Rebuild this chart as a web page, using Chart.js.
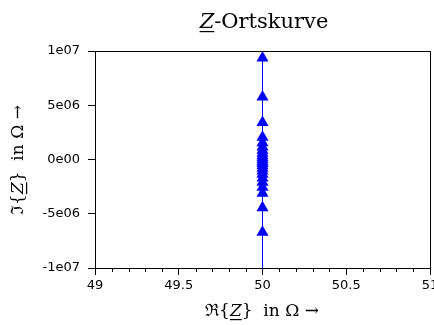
<!DOCTYPE html>
<html>
<head>
<meta charset="utf-8">
<script src="https://cdn.jsdelivr.net/npm/chart.js@4/dist/chart.umd.min.js"></script>
<style>
html,body{margin:0;padding:0;background:#fff;overflow:hidden;}
#wrap{width:434px;height:325px;position:relative;overflow:hidden;}
</style>
</head>
<body>
<div id="wrap"><canvas id="chart" width="454" height="325"></canvas></div>
<script>
// ===== daten =====
// Realteil (konstant) und Imaginärteil der Ortskurve, in Ohm
let imagWerte = [-3e7, -6.7e6, -4.45e6, -3.1e6, -2.55e6, -2.1e6, -1.7e6, -1.35e6, -1.05e6, -0.8e6,
                 -0.58e6, -0.38e6, -0.2e6, -0.03e6, 0.15e6, 0.35e6, 0.58e6, 0.85e6, 1.15e6, 1.55e6,
                 2.05e6, 3.4e6, 5.75e6, 9.35e6, 3e7];
let realWerte = imagWerte.map(() => 50);

let xTicks = [49, 49.5, 50, 50.5, 51];
let yTicks = [-1e7, -5e6, 0, 5e6, 1e7];

const SERIF = "'DejaVu Serif', serif";
const SANS = "'DejaVu Sans', sans-serif";

// text in stücken zeichnen (kursiv, unterstrichen)
function drawParts(ctx, parts, x, y){
  let total = 0;
  parts.forEach(p => { ctx.font = p.f; total += ctx.measureText(p.t).width; });
  let cx = x - total/2;
  ctx.textBaseline = 'alphabetic';
  ctx.textAlign = 'left';
  parts.forEach(p => {
    ctx.font = p.f;
    let w = ctx.measureText(p.t).width;
    ctx.fillText(p.t, cx, y);
    if(p.u){
      ctx.fillRect(cx, y + 3, w, 1.2);
    }
    cx += w;
  });
}

function fmtExp(v){
  if(v === 0) return '0e00';
  let [m, e] = v.toExponential(0).split('e');
  e = parseInt(e);
  return m + 'e' + (e < 0 ? '-' : '') + String(Math.abs(e)).padStart(2, '0');
}

const deko = {
  id: 'deko',
  afterDraw(chart){
    let ctx = chart.ctx;
    let a = chart.chartArea;
    ctx.save();
    ctx.strokeStyle = '#000';
    ctx.lineWidth = 1;
    ctx.strokeRect(Math.round(a.left)+0.5, Math.round(a.top)+0.5, Math.round(a.right-a.left), Math.round(a.bottom-a.top));

    // kleine striche auf der x-achse
    let sx = chart.scales.x;
    ctx.beginPath();
    for(let i = 0; i <= 20; i++){
      let v = 49 + i*0.1;
      if(i % 5 === 0) continue;
      let px = Math.round(sx.getPixelForValue(v)) + 0.5;
      ctx.moveTo(px, a.bottom);
      ctx.lineTo(px, a.bottom + 4);
    }
    ctx.stroke();

    ctx.fillStyle = '#000';
    // titel
    drawParts(ctx, [
      {t:'Z', f:'italic 21px ' + SERIF, u:true},
      {t:'-Ortskurve', f:'21px ' + SERIF}
    ], 264, 28);

    // x-beschriftung
    drawParts(ctx, [
      {t:'\u211C{', f:'17px ' + SERIF},
      {t:'Z', f:'italic 17px ' + SERIF, u:true},
      {t:'}  in \u03A9 \u2192', f:'17px ' + SERIF}
    ], 262, 316);

    // y-beschriftung
    ctx.translate(23, 160);
    ctx.rotate(-Math.PI/2);
    drawParts(ctx, [
      {t:'\u2111{', f:'17px ' + SERIF},
      {t:'Z', f:'italic 17px ' + SERIF, u:true},
      {t:'}  in \u03A9 \u2192', f:'17px ' + SERIF}
    ], 0, 0);
    ctx.restore();
  }
};

let chart = new Chart(document.getElementById('chart').getContext('2d'), {
  type: 'scatter',
  data: {
    datasets: [{
      data: realWerte.map((r, i) => ({x: r, y: imagWerte[i]})),
      showLine: true,
      borderColor: '#0000ff',
      backgroundColor: '#0000ff',
      borderWidth: 1,
      pointStyle: 'triangle',
      pointRadius: 7,
      pointBorderWidth: 0,
      pointHoverRadius: 7
    }]
  },
  options: {
    responsive: false,
    animation: false,
    events: [],
    layout: {padding: {left: 0, top: 51, right: 24, bottom: 0}},
    plugins: {legend: {display: false}, tooltip: {enabled: false}, title: {display: false}},
    scales: {
      x: {
        type: 'linear',
        min: 49, max: 51,
        afterBuildTicks: s => { s.ticks = xTicks.map(v => ({value: v})); },
        afterFit: s => { s.height = 57; },
        ticks: {
          color: '#000', font: {family: SANS, size: 13}, padding: 3,
          maxRotation: 0, autoSkip: false,
          callback: v => String(v)
        },
        grid: {drawOnChartArea: false, color: '#000', tickLength: 7, tickWidth: 1},
        border: {color: '#000', width: 1}
      },
      y: {
        type: 'linear',
        min: -1e7, max: 1e7,
        afterBuildTicks: s => { s.ticks = yTicks.map(v => ({value: v})); },
        afterFit: s => { s.width = 95; },
        ticks: {
          color: '#000', font: {family: SANS, size: 13}, padding: 8,
          autoSkip: false,
          callback: v => fmtExp(v)
        },
        grid: {drawOnChartArea: false, color: '#000', tickLength: 7, tickWidth: 1},
        border: {color: '#000', width: 1}
      }
    }
  },
  plugins: [deko]
});
</script>
</body>
</html>
